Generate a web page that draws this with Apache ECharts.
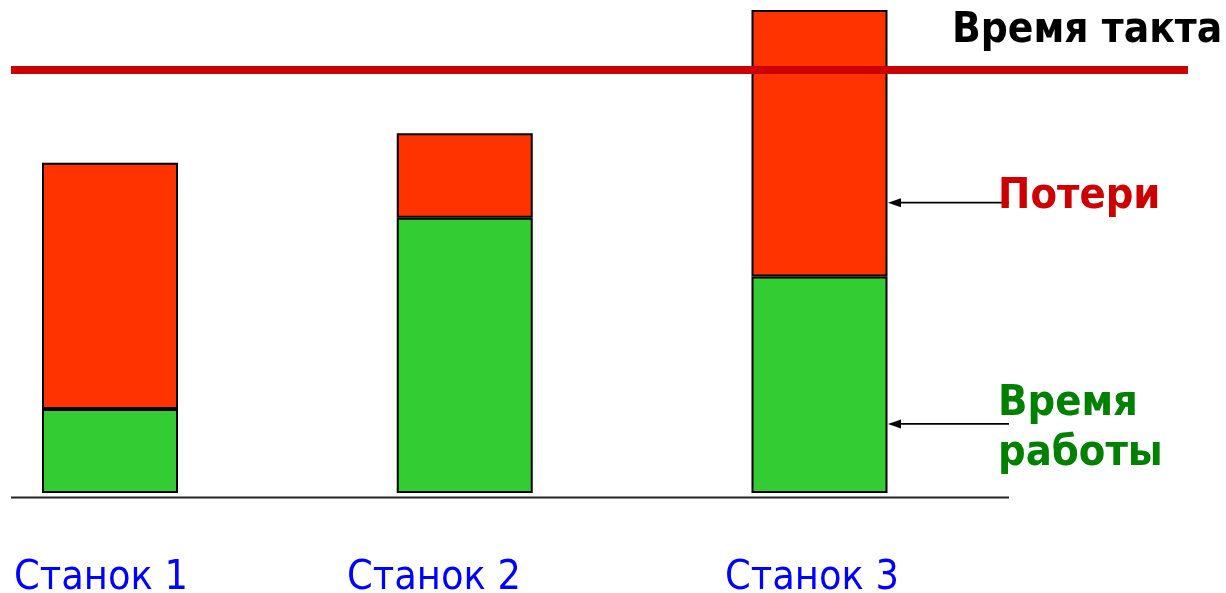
<!DOCTYPE html>
<html>
<head>
<meta charset="utf-8">
<script src="https://cdn.jsdelivr.net/npm/echarts@6/dist/echarts.min.js"></script>
<style>
  html, body { margin: 0; padding: 0; background: #fff; }
  #chart { width: 1226px; height: 593px; }
</style>
</head>
<body>
<div id="chart"></div>
<script>
// Machines and their cycle-time breakdown
const machines = ['Станок 1', 'Станок 2', 'Станок 3'];
const workTime = [17.4, 57.0, 44.8];   // Время работы
const lossTime = [51.0, 17.5, 55.2];   // Потери
const taktTime = 87.6;                 // Время такта

// Arrow targets on the third machine (values on the time axis)
const lossArrowAt = 60.1;
const workArrowAt = 14.3;

const FONT = '"DejaVu Sans Condensed", "DejaVu Sans", sans-serif';

const chart = echarts.init(document.getElementById('chart'));

chart.setOption({
  animation: false,
  backgroundColor: '#ffffff',
  // category ticks sit on the grid edges (boundaryGap off), bars centred on them
  grid: { left: 110, width: 709.5, top: 10, bottom: 100 },
  xAxis: {
    type: 'category',
    data: machines,
    boundaryGap: false,
    axisLine: { show: false },
    axisTick: { show: false },
    axisLabel: { show: false },
    splitLine: { show: false }
  },
  yAxis: {
    type: 'value',
    min: 0,
    max: 100,
    show: false,
    splitLine: { show: false }
  },
  series: [
    {
      name: 'Время работы',
      type: 'bar',
      stack: 'cycle',
      clip: false,
      barWidth: 136,
      data: workTime,
      itemStyle: { color: '#33CC33', borderColor: '#000', borderWidth: 2 }
    },
    {
      name: 'Потери',
      type: 'bar',
      stack: 'cycle',
      clip: false,
      barWidth: 136,
      data: lossTime,
      itemStyle: { color: '#FF3300', borderColor: '#000', borderWidth: 2 }
    }
  ]
});

// Annotations placed through the value axis
const yPix = v => chart.convertToPixel({ yAxisIndex: 0 }, v);
const taktY = yPix(taktTime);
const baseY = yPix(0) + 4.5;

function arrow(y) {
  return [
    { type: 'line', z: 100, shape: { x1: 1009, y1: y, x2: 898, y2: y },
      style: { stroke: '#000', lineWidth: 1.8 } },
    { type: 'polygon', z: 100, shape: { points: [[888, y], [901, y - 4.5], [901, y + 4.5]] },
      style: { fill: '#000' } }
  ];
}

const labelX = [14, 347, 725];

chart.setOption({
  graphic: [
    // takt time line
    { type: 'rect', z: 100, shape: { x: 11, y: taktY - 4, width: 1177, height: 8 },
      style: { fill: '#CC0000' } },
    // base line
    { type: 'line', z: 100, shape: { x1: 11, y1: baseY, x2: 1009, y2: baseY },
      style: { stroke: '#222', lineWidth: 2 } },
    ...arrow(yPix(lossArrowAt)),
    ...arrow(yPix(workArrowAt)),
    { type: 'text', z: 100, style: { x: 952, y: 31.5, text: 'Время такта', fill: '#000',
      font: 'bold 42px ' + FONT, textVerticalAlign: 'middle' } },
    { type: 'text', z: 100, style: { x: 998, y: 196.5, text: 'Потери', fill: '#CC0000',
      font: 'bold 43px ' + FONT, textVerticalAlign: 'middle' } },
    { type: 'text', z: 100, style: { x: 998, y: 403.5, text: 'Время', fill: '#008000',
      font: 'bold 43px ' + FONT, textVerticalAlign: 'middle' } },
    { type: 'text', z: 100, style: { x: 998, y: 453.5, text: 'работы', fill: '#008000',
      font: 'bold 43px ' + FONT, textVerticalAlign: 'middle' } },
    ...machines.map((m, i) => ({
      type: 'text', z: 100,
      style: { x: labelX[i], y: 578.5, text: m, fill: '#0000FF',
        font: '41px ' + FONT, textVerticalAlign: 'middle' }
    }))
  ]
});
</script>
</body>
</html>
